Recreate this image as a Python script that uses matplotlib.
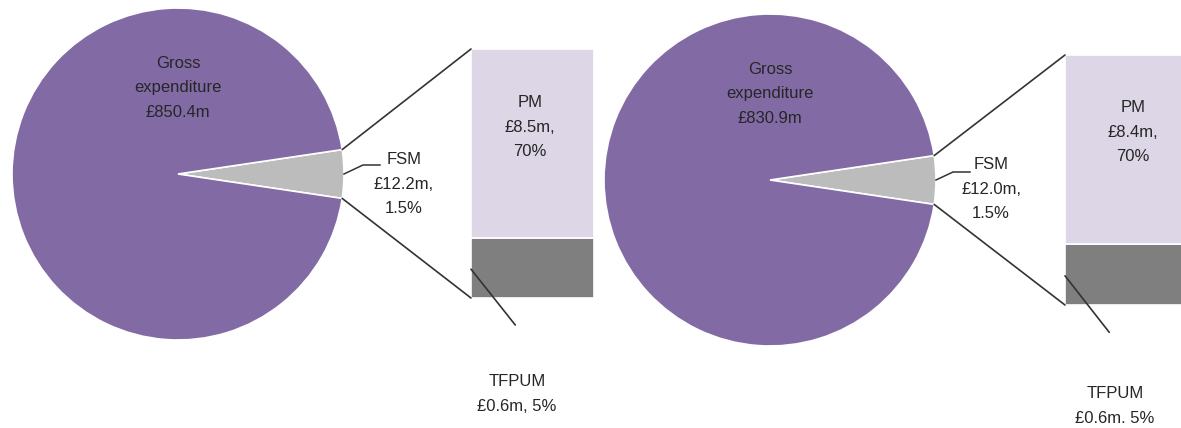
import numpy as np
import matplotlib.pyplot as plt
from matplotlib.patches import ConnectionPatch

plt.rcParams["font.family"] = ["Liberation Sans", "DejaVu Sans"]

# -----------------------------
# Data
# -----------------------------
# slice shares as drawn (the FSM wedge is drawn wider than its 1.5% label)
pie_share_left = [4.7, 95.3]      # FSM, rest of gross expenditure
pie_share_right = [4.7, 95.3]

gross_left = "Gross\nexpenditure\n£850.4m"
gross_right = "Gross\nexpenditure\n£830.9m"
fsm_left = "FSM\n£12.2m,\n1.5%"
fsm_right = "FSM\n£12.0m,\n1.5%"
pm_left = "PM\n£8.5m,\n70%"
pm_right = "PM\n£8.4m,\n70%"
tfpum_left = "TFPUM\n£0.6m, 5%"
tfpum_right = "TFPUM\n£0.6m. 5%"

# bar segments, bottom to top: other, PM
bar_left = [2.7, 8.5]
bar_right = [2.7, 8.4]

PURPLE = "#826ba5"
SLICE = "#bcbcbc"
LAVENDER = "#dcd6e6"
DARK = "#7f7f7f"
INK = "#262626"
LINE = "#333333"
FS = 12
LS = 1.8

W, H = 1181, 428


def box(x0, y0, x1, y1):
    return [x0 / W, 1 - y1 / H, (x1 - x0) / W, (y1 - y0) / H]


fig = plt.figure(figsize=(W / 100, H / 100), dpi=100)
overlay = fig.add_axes([0, 0, 1, 1])
overlay.set_xlim(0, W)
overlay.set_ylim(H, 0)
overlay.axis("off")
overlay.set_zorder(10)


def panel(pie_box, bar_box, shares, bars, gross, fsm, pm, tfpum,
          fsm_pos, pm_pos, tfpum_pos, elbow):
    axp = fig.add_axes(box(*pie_box))
    half = shares[0] / sum(shares) * 360 / 2
    axp.pie(shares, colors=[SLICE, PURPLE], startangle=-half, counterclock=True,
            radius=1, wedgeprops=dict(edgecolor="white", linewidth=1.2))
    axp.set_xlim(-1, 1)
    axp.set_ylim(-1, 1)
    axp.set_aspect("equal")
    axp.axis("off")
    axp.text(0, 0.52, gross, ha="center", va="center", fontsize=FS,
             color=INK, linespacing=LS)

    axb = fig.add_axes(box(*bar_box))
    bottom = 0
    for val, col in zip(bars, [DARK, LAVENDER]):
        axb.bar(0, val, width=1, bottom=bottom, color=col,
                edgecolor="white", linewidth=1.2)
        bottom += val
    total = sum(bars)
    axb.set_xlim(-0.5, 0.5)
    axb.set_ylim(0, total)
    axb.axis("off")

    # connector lines from wedge edges to bar corners
    t = np.deg2rad(half)
    for y_pie, y_bar in [(np.sin(t), total), (-np.sin(t), 0)]:
        con = ConnectionPatch(xyA=(np.cos(t), y_pie), coordsA=axp.transData,
                              xyB=(-0.5, y_bar), coordsB=axb.transData,
                              color=LINE, linewidth=1.2)
        fig.add_artist(con)

    # FSM leader
    x0, y0 = fig.transFigure.inverted().transform(axp.transData.transform((1, 0)))
    ex, ey, hx = elbow
    overlay.plot([x0 * W, ex, hx], [(1 - y0) * H, ey, ey], color=LINE, lw=1.1)
    overlay.text(fsm_pos[0], fsm_pos[1], fsm, ha="center", va="top",
                 fontsize=FS, color=INK, linespacing=LS)

    # PM label
    overlay.text(pm_pos[0], pm_pos[1], pm, ha="center", va="top",
                 fontsize=FS, color=INK, linespacing=LS)

    # TFPUM leader + label
    axb.annotate("", xy=(-0.5, bars[0] * 0.48), xytext=(-0.14, -bars[0] * 0.45),
                 arrowprops=dict(arrowstyle="-", color=LINE, lw=1.2,
                                 shrinkA=0, shrinkB=0),
                 annotation_clip=False)
    overlay.text(tfpum_pos[0], tfpum_pos[1], tfpum, ha="center", va="top",
                 fontsize=FS, color=INK, linespacing=LS)


panel((12, 8, 344, 340), (471, 49, 594, 298), pie_share_left, bar_left,
      gross_left, fsm_left, pm_left, tfpum_left,
      fsm_pos=(404, 152), pm_pos=(530, 95), tfpum_pos=(517, 374),
      elbow=(363, 165, 380))

panel((604, 14, 936, 346), (1065, 55, 1188, 305), pie_share_right, bar_right,
      gross_right, fsm_right, pm_right, tfpum_right,
      fsm_pos=(991, 157), pm_pos=(1133, 100), tfpum_pos=(1115, 386),
      elbow=(953, 172, 970))

fig.savefig("out.png", dpi=100)
